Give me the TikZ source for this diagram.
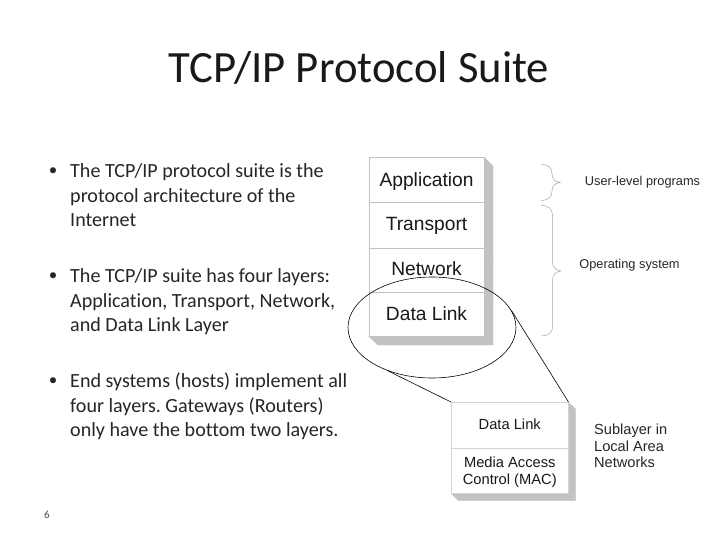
\documentclass[tikz,border=0pt]{standalone}
\usepackage{fontspec}
\setmainfont{Carlito}[Ligatures=NoCommon]
\newfontfamily\arialf{Liberation Sans}
\usetikzlibrary{shapes.geometric}
\definecolor{shadeg}{gray}{0.76}
\definecolor{lineg}{gray}{0.76}
\newcommand{\nudge}[2]{\raisebox{#1}[\height][\depth]{#2}}
\frenchspacing
\tikzset{
  x=1pt,y=-1pt,
  titletext/.style={inner sep=0,font=\fontsize{44.7}{50}\selectfont,text=black!90},
  bodytext/.style={inner sep=0,anchor=north west,align=left,font=\fontsize{20.1}{24.4}\selectfont,text=black!85},
  bullet/.style={inner sep=0,font=\fontsize{17}{20}\selectfont,text=black!85},
  layer/.style={draw=lineg,line width=0.6pt,fill=white,minimum width=115.5pt,inner sep=0,anchor=north west,font=\arialf\fontsize{19.2}{22}\selectfont,text=black!90},
  sublayer/.style={draw=lineg!70,line width=0.5pt,fill=white,minimum width=117pt,inner sep=0,anchor=north west,align=center,font=\arialf\fontsize{14.7}{17}\selectfont,text=black!90},
  sidelabel/.style={inner sep=0,font=\arialf\fontsize{12.8}{14}\selectfont,text=black!85},
  sidelist/.style={inner sep=0,anchor=north west,align=left,font=\arialf\fontsize{14.6}{16.5}\selectfont,text=black!85},
  sidegray/.style={fill=shadeg,draw=lineg,line width=0.3pt},
  curly/.style={draw=black!35,line width=0.5pt},
  lens/.style={draw=black,line width=0.6pt},
}
\begin{document}
\begin{tikzpicture}
\useasboundingbox (0,0) rectangle (720,540);
\fill[white] (0,0) rectangle (720,540);
\node[titletext] (title) at (359,68) {TCP/IP Protocol Suite};

\node[bullet] (b1) at (53,172) {•};
\node[bodytext] (t1) at (70,163.5) {The TCP/IP protocol suite is the\\protocol architecture of the\\Internet};
\node[bullet] (b2) at (53,277) {•};
\node[bodytext] (t2) at (70,268.5) {The TCP/IP suite has four layers:\\Application, Transport, Network,\\and Data Link Layer};
\node[bullet] (b3) at (53,382) {•};
\node[bodytext] (t3) at (70,373) {End systems (hosts) implement all\\four layers. Gateways (Routers)\\only have the bottom two layers.};
\node[inner sep=0,font=\fontsize{11}{13}\selectfont,text=black!70] (pg) at (47,515) {6};

% main stack
\fill[sidegray] (484,157) -- (493,166) -- (493,345) -- (484,336) -- cycle;
\fill[sidegray] (368.5,336) -- (484,336) -- (493,345) -- (377.5,345) -- cycle;
\draw[lineg,line width=0.4pt] (484,202) -- (493,211) (484,247.5) -- (493,256.5) (484,291.5) -- (493,300.5);
\node[layer,minimum height=45pt] (app) at (368.5,157) {\nudge{-1.5pt}{Application}};
\node[layer,minimum height=45.5pt] (trn) at (368.5,202) {\nudge{-1pt}{Transport}};
\node[layer,minimum height=44pt] (net) at (368.5,247.5) {\nudge{1pt}{Network}};
\node[layer,minimum height=44.5pt] (dl) at (368.5,291.5) {Data Link};

% braces
\draw[curly] (541,164) .. controls (549,165) and (552,168) .. (552,174) .. controls (552,179) and (555,182) .. (560,182.5) .. controls (555,183) and (552,186) .. (552,191) .. controls (552,197) and (549,200) .. (541,200.5);
\draw[curly] (541,205) .. controls (549,206) and (552.5,209) .. (552.5,216) -- (552.5,262) .. controls (552.5,267) and (555,270) .. (561,271) .. controls (555,272) and (552.5,275) .. (552.5,280) -- (552.5,326) .. controls (552.5,333) and (549,335.5) .. (541,336);
\node[sidelabel] (ulp) at (642.5,182.5) {User-level programs};
\node[sidelabel] (os) at (629.5,265) {Operating system};

% lower box
\fill[sidegray] (568,402) -- (575.5,409) -- (575.5,500.5) -- (568,493) -- cycle;
\fill[sidegray] (451,493) -- (568,493) -- (575.5,500.5) -- (458,500.5) -- cycle;
\draw[lineg,line width=0.4pt] (568,447.5) -- (575.5,454.5);
\node[sublayer,minimum height=45.5pt] (sdl) at (451,402) {\nudge{1pt}{Data Link}};
\node[sublayer,minimum height=45.5pt] (mac) at (451,447.5) {\nudge{-2pt}{Media Access}\\\nudge{-2pt}{Control (MAC)}};
\node[sidelist] (sub) at (594,424) {Sublayer in\\Local Area\\Networks};

% magnifier
\node[ellipse,lens,minimum width=168pt,minimum height=101pt,inner sep=0] (ell) at (432,327.5) {};
\draw[lens] (ell.224) -- (sdl.north west);
\draw[lens] (ell.12) -- (sdl.north east);
\end{tikzpicture}
\end{document}
